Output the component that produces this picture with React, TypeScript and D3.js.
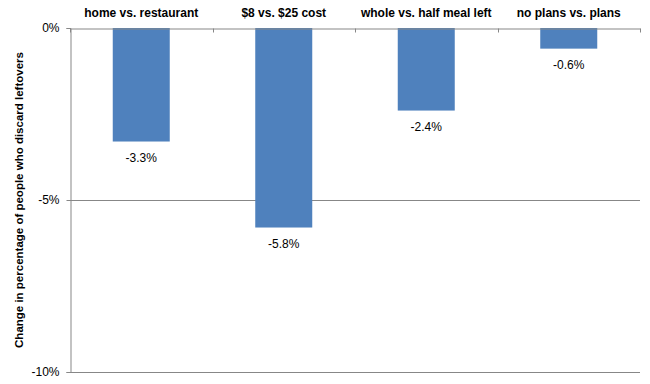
import React, { useRef, useEffect } from "react"
import * as d3 from "d3"

const categories = [
  "home vs. restaurant",
  "$8 vs. $25 cost",
  "whole vs. half meal left",
  "no plans vs. plans",
]
const values = [-3.3, -5.8, -2.4, -0.6]
const yTicks = [0, -5, -10]
const yTitle = "Change in percentage of people who discard leftovers"

const W = 650,
  H = 384
const margin = { top: 28, right: 10, bottom: 12, left: 70 }
const font = "'Liberation Sans', Arial, sans-serif"

function Chart() {
  const ref = useRef(null)

  useEffect(() => {
    const svg = d3.select(ref.current)
    svg.selectAll("*").remove()

    const x = d3
      .scaleBand()
      .domain(categories)
      .range([margin.left, W - margin.right])
      .padding(0)
    const y = d3
      .scaleLinear()
      .domain([0, -10])
      .range([margin.top, H - margin.bottom])

    const g = svg.append("g")

    // gridlines
    g.selectAll(".grid")
      .data(yTicks.filter(d => d !== 0))
      .join("line")
      .attr("x1", margin.left)
      .attr("x2", W - margin.right)
      .attr("y1", d => y(d) + 0.5)
      .attr("y2", d => y(d) + 0.5)
      .attr("stroke", "#878787")
      .attr("stroke-width", 1)

    // bars
    const bw = x.bandwidth()
    g.selectAll(".bar")
      .data(values)
      .join("rect")
      .attr("x", (d, i) => x(categories[i]) + bw * 0.3)
      .attr("y", y(0))
      .attr("width", bw * 0.4)
      .attr("height", d => y(d) - y(0))
      .attr("fill", "#4F81BD")

    // value labels
    g.selectAll(".val")
      .data(values)
      .join("text")
      .attr("x", (d, i) => x(categories[i]) + bw / 2)
      .attr("y", d => y(d) + 20)
      .attr("text-anchor", "middle")
      .style("font-family", font)
      .style("font-size", "12px")
      .attr("fill", "#000")
      .text(d => d.toFixed(1) + "%")

    // y axis
    const yAxis = d3
      .axisLeft(y)
      .tickValues(yTicks)
      .tickSize(4)
      .tickFormat(d => d + "%")
    const ya = g
      .append("g")
      .attr("transform", `translate(${margin.left + 0.5},0)`)
      .call(yAxis)
    ya.select(".domain").attr("stroke", "#878787")
    ya.selectAll("line").attr("stroke", "#878787")
    ya.selectAll("text")
      .attr("dx", "-4")
      .style("font-family", font)
      .style("font-size", "12px")
      .attr("fill", "#000")

    // category axis at zero
    const xAxis = d3.axisBottom(x).tickSize(0).tickFormat(() => "")
    const xa = g
      .append("g")
      .attr("transform", `translate(0,${y(0) + 0.5})`)
      .call(xAxis)
    xa.select(".domain").attr("stroke", "#878787")
    xa.selectAll(".tick").remove()
    xa.selectAll(".sep")
      .data(d3.range(categories.length + 1))
      .join("line")
      .attr("x1", i => Math.round(margin.left + i * x.step()) + 0.5)
      .attr("x2", i => Math.round(margin.left + i * x.step()) + 0.5)
      .attr("y1", 0)
      .attr("y2", 4)
      .attr("stroke", "#878787")

    // category labels on top
    g.selectAll(".cat")
      .data(categories)
      .join("text")
      .attr("x", d => x(d) + bw / 2)
      .attr("y", 17)
      .attr("text-anchor", "middle")
      .style("font-family", font)
      .style("font-size", "12px")
      .style("font-weight", "bold")
      .text(d => d)

    // y title
    g.append("text")
      .attr("transform", `translate(23,${(y(0) + y(-10)) / 2}) rotate(-90)`)
      .attr("text-anchor", "middle")
      .style("font-family", font)
      .style("font-size", "11.5px")
      .style("font-weight", "bold")
      .text(yTitle)
  }, [])

  return <svg ref={ref} width={W} height={H} style={{ display: "block" }}></svg>
}

export default function App() {
  return (
    <div style={{ position: "absolute", left: 0, top: 0, background: "#fff" }}>
      <Chart />
    </div>
  )
}
